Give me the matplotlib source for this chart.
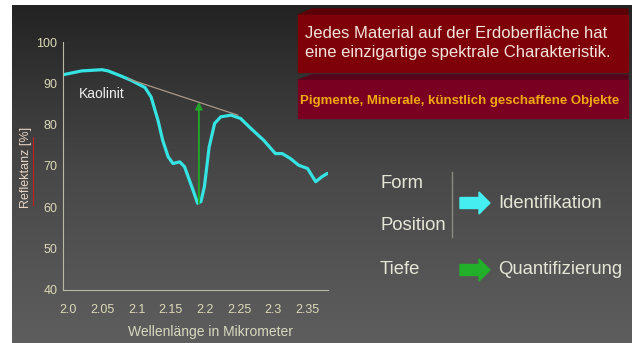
import numpy as np
import matplotlib.pyplot as plt
from matplotlib.patches import Rectangle, Polygon, FancyArrow

plt.rcParams['font.family'] = ['Liberation Sans', 'DejaVu Sans']

# spectrum of kaolinite
wl = [1.99, 2.019, 2.049, 2.058, 2.078, 2.092, 2.112, 2.121, 2.131, 2.138, 2.146,
      2.153, 2.163, 2.170, 2.177, 2.184, 2.189, 2.194, 2.199, 2.206, 2.214, 2.223,
      2.238, 2.252, 2.267, 2.286, 2.303, 2.313, 2.325, 2.337, 2.350, 2.362, 2.371, 2.379]
refl = [92.0, 93.0, 93.3, 93.0, 91.7, 90.7, 89.0, 86.7, 81.1, 76.2, 72.2,
        70.6, 71.0, 69.8, 66.6, 63.4, 61.0, 61.4, 65.0, 74.6, 80.3, 81.9,
        82.3, 81.5, 79.1, 76.2, 73.0, 73.0, 71.8, 70.2, 69.4, 66.2, 67.4, 68.2]
hull_x = [2.087, 2.248]
hull_y = [91.1, 82.3]
depth_x = 2.191
depth_y = [61.0, 85.5]

xticks = [2.0, 2.05, 2.1, 2.15, 2.2, 2.25, 2.3, 2.35]
xticklabels = ["2.0", "2.05", "2.1", "2.15", "2.2", "2.25", "2.3", "2.35"]
yticks = [40, 50, 60, 70, 80, 90, 100]

W, H = 641, 343
fig = plt.figure(figsize=(W/100, H/100), dpi=100)

# background: white frame + dark gradient slide
bg = fig.add_axes([0, 0, 1, 1])
bg.set_xlim(0, W)
bg.set_ylim(H, 0)
bg.axis("off")
bg.add_patch(Rectangle((0, 0), W, H, color="white", zorder=0))
grad = np.linspace(0, 1, 256).reshape(-1, 1)
bg.imshow(grad, cmap=plt.matplotlib.colors.LinearSegmentedColormap.from_list(
    "g", ["#232323", "#484848", "#5e5e5e"]), extent=(12, 632, H, 5),
    aspect="auto", zorder=1)

# chart
ax = fig.add_axes([63/W, 1-290/H, (328-63)/W, (290-42)/H])
ax.patch.set_alpha(0)
ax.plot(wl, refl, color="#35e3e3", lw=2.3, solid_capstyle="round")
ax.plot(hull_x, hull_y, color="#a89a88", lw=0.9)
ax.annotate("", xy=(depth_x, depth_y[1]), xytext=(depth_x, depth_y[0]),
            arrowprops=dict(arrowstyle="-|>", color="#22a32a", lw=1.4,
                            mutation_scale=10, shrinkA=0, shrinkB=0))
ax.text(2.0146, 87.5, "Kaolinit", color="#eeeeee", fontsize=10, va="center")
ax.set_xlim(1.992, 2.38)
ax.set_ylim(40, 100)
ax.set_xticks(xticks)
ax.set_xticklabels(xticklabels)
ax.set_yticks(yticks)
for s in ["top", "right"]:
    ax.spines[s].set_visible(False)
for s in ["left", "bottom"]:
    ax.spines[s].set_color("#b8b8a4")
ax.tick_params(length=0, colors="#dcd8b8", labelsize=9)
ax.tick_params(axis="x", pad=10)
ax.tick_params(axis="y", pad=4)

# overlay in pixel coords
ov = fig.add_axes([0, 0, 1, 1])
ov.set_xlim(0, W)
ov.set_ylim(H, 0)
ov.axis("off")
ov.patch.set_alpha(0)

# axis labels, with red spell-check line on the y label
ov.text(210, 332, "Wellenlänge in Mikrometer", color="#d8d8c0", fontsize=10,
        ha="center", va="center")
ov.text(26, 167, "Reflektanz [%]", color="#e8d4c4", fontsize=9, rotation=90,
        ha="center", va="center")
ov.plot([33, 33], [137, 205], color="#c02020", lw=0.8)

# red boxes
ov.add_patch(Polygon([(298, 15), (312, 9), (628, 9), (628, 15)], color="#5a0006"))
ov.add_patch(Rectangle((298, 15), 330, 57, color="#7e0008"))
ov.add_patch(Polygon([(298, 80), (312, 75), (628, 75), (628, 80)], color="#58001a"))
ov.add_patch(Rectangle((298, 80), 330, 38, color="#7a0022"))
ov.text(305, 34, "Jedes Material auf der Erdoberfläche hat", color="#f4e4dc",
        fontsize=12, va="center")
ov.text(305, 53, "eine einzigartige spektrale Charakteristik.", color="#f4e4dc",
        fontsize=12, va="center")
ov.text(300, 101, "Pigmente, Minerale, künstlich geschaffene Objekte", color="#f0a810",
        fontsize=9.5, fontweight="bold", va="center")

# right side labels
txt = "#e6e6d8"
fs = 13.3
ov.text(380, 183, "Form", color=txt, fontsize=fs, va="center")
ov.text(380, 226, "Position", color=txt, fontsize=fs, va="center")
ov.text(380, 270, "Tiefe", color=txt, fontsize=fs, va="center")
ov.text(498, 203, "Identifikation", color=txt, fontsize=fs, va="center")
ov.text(498, 270, "Quantifizierung", color=txt, fontsize=fs, va="center")
ov.plot([452, 452], [172, 237], color="#8a8a80", lw=1)
ov.add_patch(FancyArrow(460, 203, 30, 0, width=11, head_width=22, head_length=11,
                        length_includes_head=True, color="#45eef0"))
ov.add_patch(FancyArrow(460, 270, 30, 0, width=11, head_width=22, head_length=11,
                        length_includes_head=True, color="#22b02a"))

fig.savefig("out.png", dpi=100)
